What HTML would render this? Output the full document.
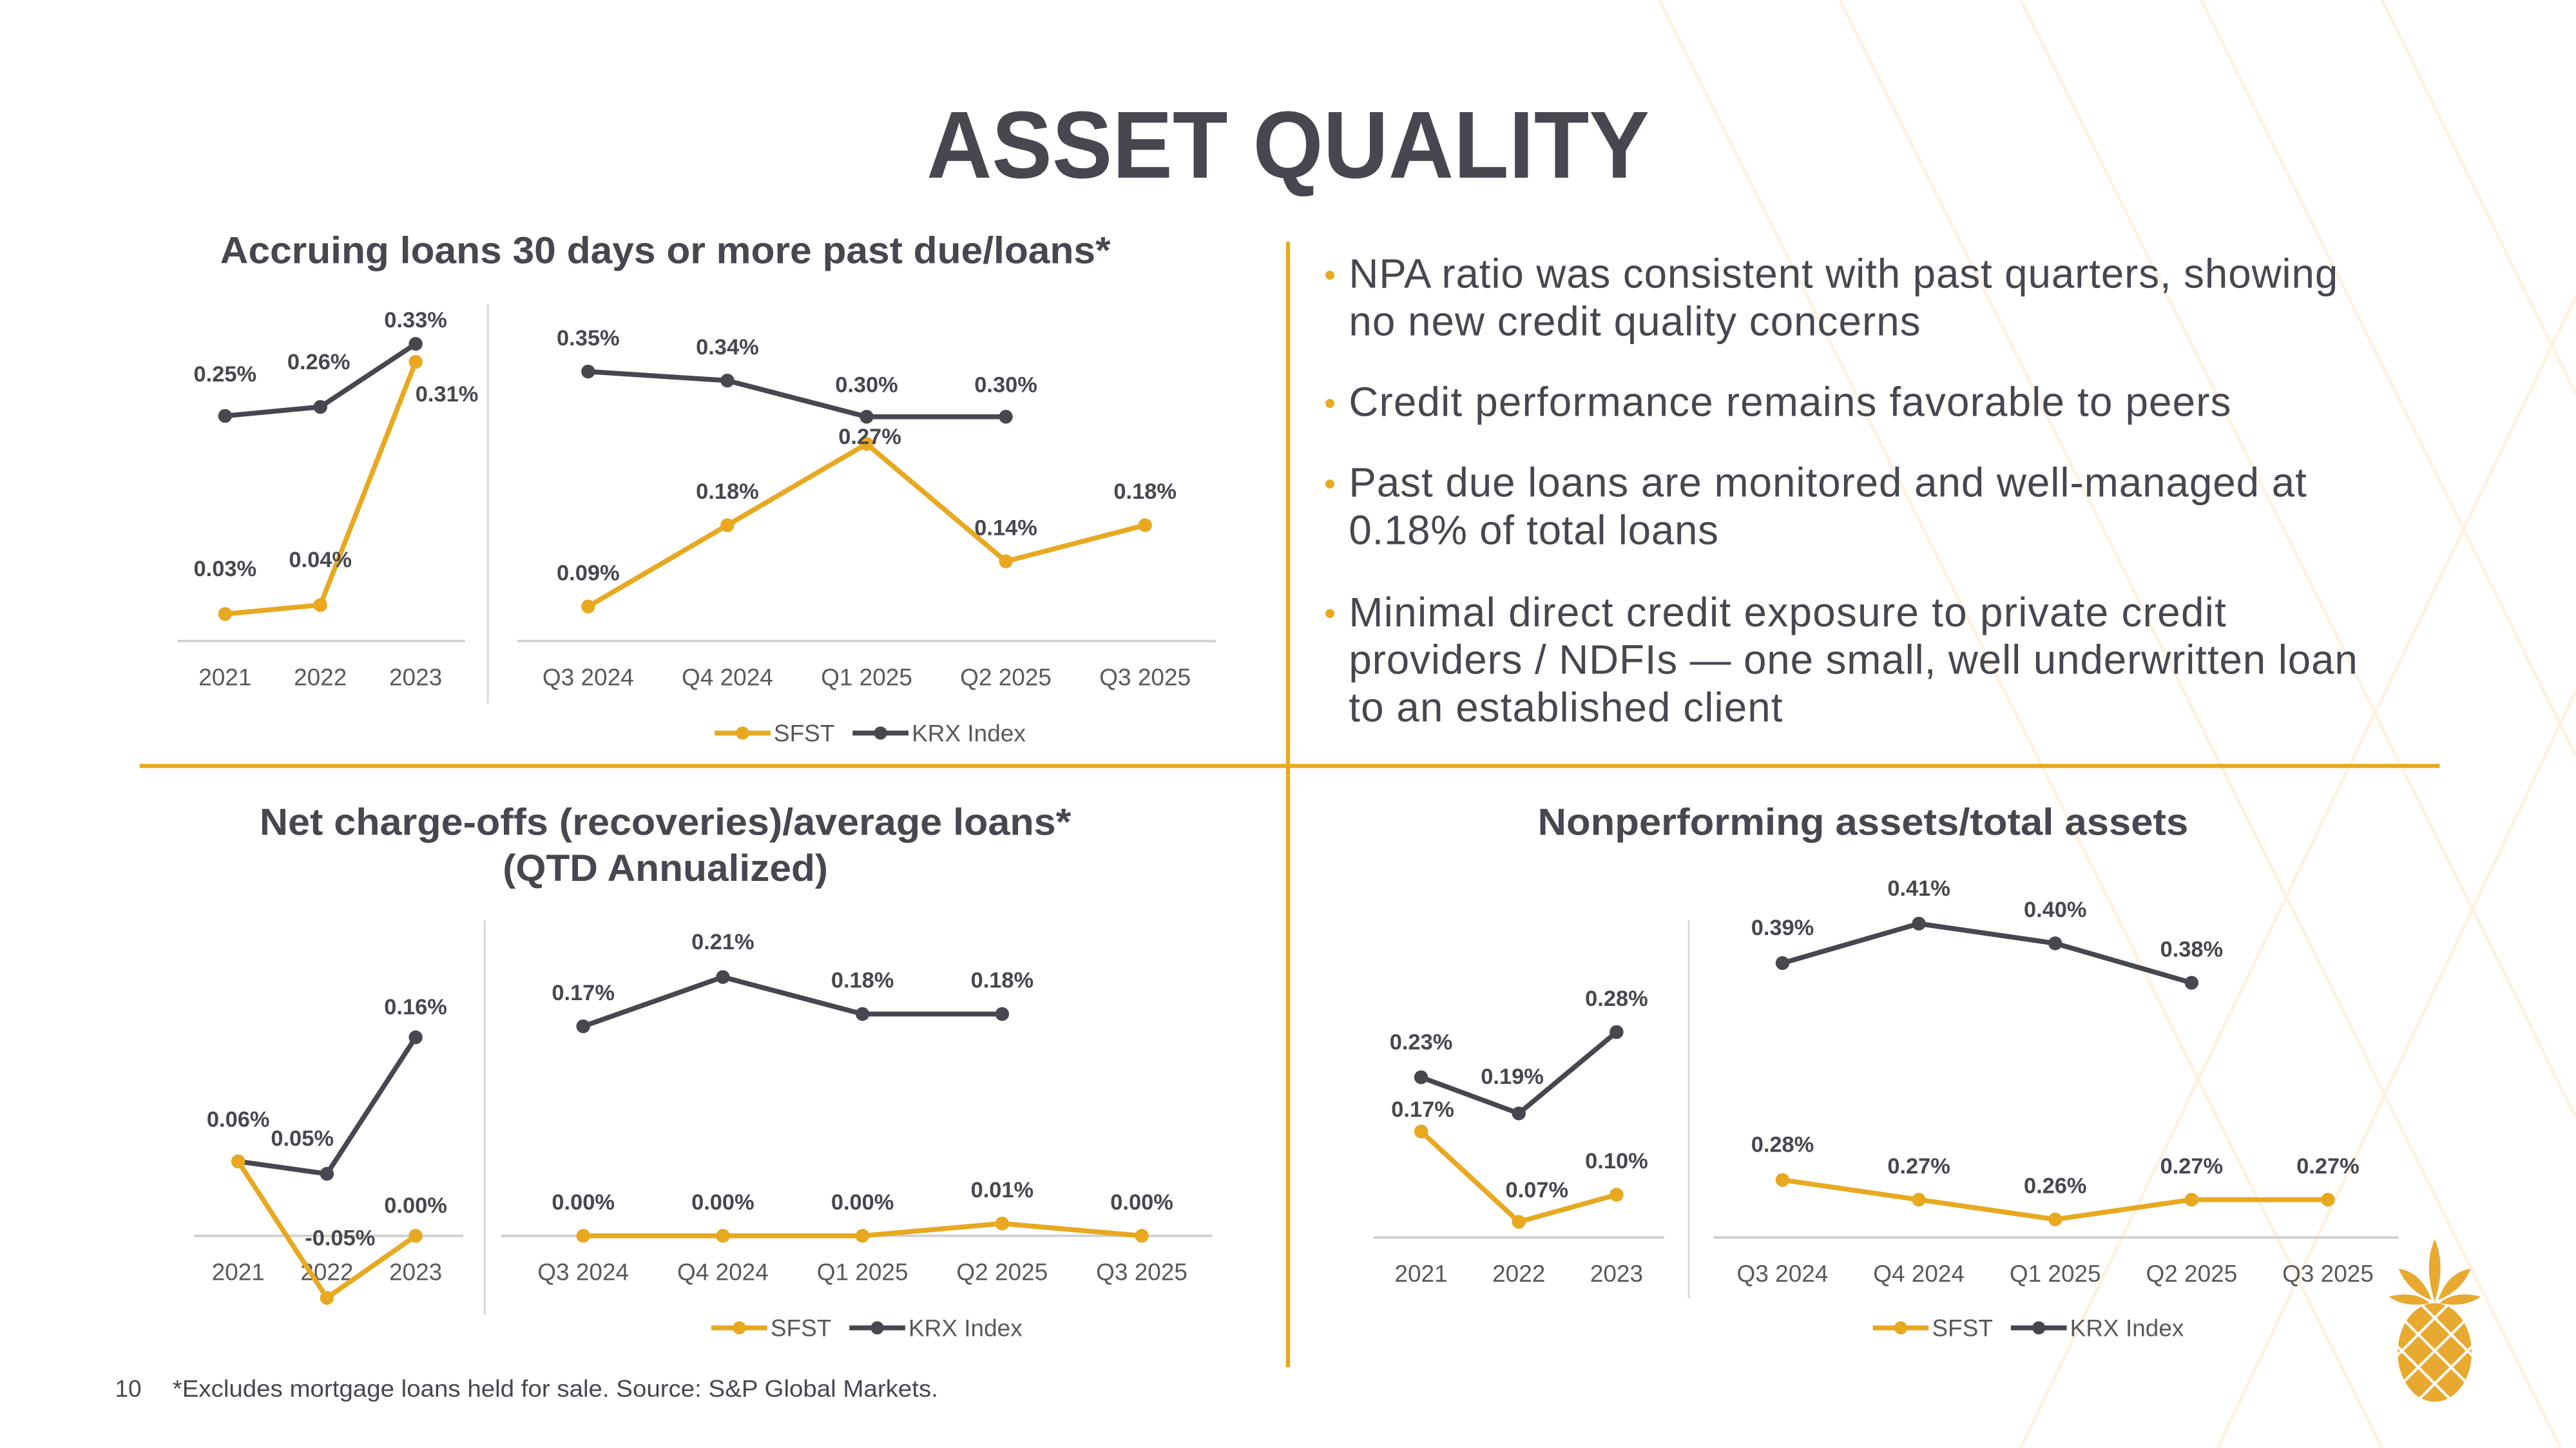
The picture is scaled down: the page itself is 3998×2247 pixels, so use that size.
<!DOCTYPE html>
<html><head><meta charset="utf-8"><style>
html,body{margin:0;padding:0;background:#fff;}
svg{display:block;}
text{font-family:"Liberation Sans",sans-serif;}
</style></head><body>
<svg id="s" width="3998" height="2247" viewBox="0 0 1568 881" xmlns="http://www.w3.org/2000/svg">
<g id="bg" stroke="#fdf3e2" stroke-width="2.2" fill="none">
  <line x1="1120" y1="0" x2="1568" y2="900"/><line x1="1230" y1="0" x2="1568" y2="680"/>
  <line x1="1340" y1="0" x2="1568" y2="460"/><line x1="1450" y1="0" x2="1568" y2="240"/>
  <line x1="1010" y1="0" x2="1450" y2="881"/><line x1="1568" y1="180" x2="1230" y2="881"/>
  <line x1="1568" y1="420" x2="1350" y2="881"/>
</g>
<text x="784" y="108" text-anchor="middle" font-size="58" font-weight="bold" fill="#46474f" textLength="440" lengthAdjust="spacingAndGlyphs">ASSET QUALITY</text>
<line x1="85" y1="466" x2="1485" y2="466" stroke="#e8a920" stroke-width="2.5"/>
<line x1="784" y1="147" x2="784" y2="832" stroke="#e8a920" stroke-width="2.5"/>
<text x="405" y="160" text-anchor="middle" font-size="23" font-weight="bold" fill="#46474f" textLength="542" lengthAdjust="spacingAndGlyphs">Accruing loans 30 days or more past due/loans*</text>
<text x="405" y="508" text-anchor="middle" font-size="23" font-weight="bold" fill="#46474f" textLength="494" lengthAdjust="spacingAndGlyphs">Net charge-offs (recoveries)/average loans*</text>
<text x="405" y="536" text-anchor="middle" font-size="23" font-weight="bold" fill="#46474f" textLength="198" lengthAdjust="spacingAndGlyphs">(QTD Annualized)</text>
<text x="1134" y="508" text-anchor="middle" font-size="23" font-weight="bold" fill="#46474f" textLength="396" lengthAdjust="spacingAndGlyphs">Nonperforming assets/total assets</text>
<g font-size="25" fill="#46474f" lengthAdjust="spacingAndGlyphs">
  <text x="806" y="174" fill="#e8a920" font-size="20">•</text>
  <text x="821" y="175" textLength="602">NPA ratio was consistent with past quarters, showing</text>
  <text x="821" y="204" textLength="348">no new credit quality concerns</text>
  <text x="806" y="252" fill="#e8a920" font-size="20">•</text>
  <text x="821" y="253" textLength="537">Credit performance remains favorable to peers</text>
  <text x="806" y="301" fill="#e8a920" font-size="20">•</text>
  <text x="821" y="302" textLength="583">Past due loans are monitored and well-managed at</text>
  <text x="821" y="331" textLength="225">0.18% of total loans</text>
  <text x="806" y="380" fill="#e8a920" font-size="20">•</text>
  <text x="821" y="381" textLength="534">Minimal direct credit exposure to private credit</text>
  <text x="821" y="410" textLength="614">providers / NDFIs — one small, well underwritten loan</text>
  <text x="821" y="439" textLength="264">to an established client</text>
</g>
<text x="70" y="850" font-size="14.5" fill="#46474f">10</text>
<text x="105" y="850" font-size="14.5" fill="#46474f" textLength="466" lengthAdjust="spacingAndGlyphs">*Excludes mortgage loans held for sale. Source: S&amp;P Global Markets.</text>
<g fill="#e8a930">
  <defs><clipPath id="pc"><ellipse cx="1482" cy="823" rx="22.5" ry="30"/></clipPath></defs>
  <ellipse cx="1482" cy="823" rx="22.5" ry="30"/>
  <g clip-path="url(#pc)" stroke="#fff" stroke-width="1.6">
    <line x1="1440" y1="780" x2="1530" y2="870"/><line x1="1440" y1="800" x2="1530" y2="890"/><line x1="1440" y1="760" x2="1530" y2="850"/><line x1="1440" y1="740" x2="1530" y2="830"/><line x1="1440" y1="820" x2="1530" y2="910"/>
    <line x1="1524" y1="780" x2="1434" y2="870"/><line x1="1524" y1="800" x2="1434" y2="890"/><line x1="1524" y1="760" x2="1434" y2="850"/><line x1="1524" y1="740" x2="1434" y2="830"/><line x1="1524" y1="820" x2="1434" y2="910"/>
  </g>
  <path d="M1482 754 Q1489 770 1482 792 Q1475 770 1482 754Z"/>
  <path d="M1460 772 Q1474 774 1480 791 Q1466 786 1460 772Z"/>
  <path d="M1504 772 Q1490 774 1484 791 Q1498 786 1504 772Z"/>
  <path d="M1454 789 Q1470 785 1479 793 Q1464 796 1454 789Z"/>
  <path d="M1510 789 Q1494 785 1485 793 Q1500 796 1510 789Z"/>
</g>
<g id="charts"></g>
</svg>
<script>
// ---- data ----
const c1aCats = ["2021","2022","2023"];
const c1aSFST = [0.03,0.04,0.31];
const c1aKRX  = [0.25,0.26,0.33];
const c1bCats = ["Q3 2024","Q4 2024","Q1 2025","Q2 2025","Q3 2025"];
const c1bSFST = [0.09,0.18,0.27,0.14,0.18];
const c1bKRX  = [0.35,0.34,0.30,0.30];
const c2aCats = ["2021","2022","2023"];
const c2aSFST = [0.06,-0.05,0.00];
const c2aKRX  = [0.06,0.05,0.16];
const c2bCats = ["Q3 2024","Q4 2024","Q1 2025","Q2 2025","Q3 2025"];
const c2bSFST = [0.00,0.00,0.00,0.01,0.00];
const c2bKRX  = [0.17,0.21,0.18,0.18];
const c3aCats = ["2021","2022","2023"];
const c3aSFST = [0.17,0.07,0.10];
const c3aKRX  = [0.23,0.19,0.28];
const c3bCats = ["Q3 2024","Q4 2024","Q1 2025","Q2 2025","Q3 2025"];
const c3bSFST = [0.28,0.27,0.26,0.27,0.27];
const c3bKRX  = [0.39,0.41,0.40,0.38];

const NS="http://www.w3.org/2000/svg";
const root=document.getElementById('charts');
const GOLD="#e8a920", DARK="#46474f";
function mk(tag,attrs,parent){const e=document.createElementNS(NS,tag);for(const k in attrs)e.setAttribute(k,attrs[k]);(parent||root).appendChild(e);return e;}

function panel(name,cats,sfst,krx,cfg){
  const g=mk('g',{});
  
  
  const X=i=>cfg.x0+i*cfg.step;
  const Y=v=>cfg.y0-v*cfg.k;
  const ax=mk('line',{x1:cfg.ax1,x2:cfg.ax2,y1:cfg.axY,y2:cfg.axY,stroke:"#d0d0d0","stroke-width":1.5},g);
  
  
  cats.forEach((c,i)=>{
    const t=mk('text',{x:X(i),y:cfg.tickY,"text-anchor":"middle","font-size":14.5,fill:"#595959"},g);
    t.textContent=c;
    
    
  });
  [[krx,DARK,'krx',cfg.kOff],[sfst,GOLD,'sfst',cfg.sOff]].forEach(([vals,col,sn,offs])=>{
    const pts=vals.map((v,i)=>X(i)+","+Y(v)).join(" ");
    const pl=mk('polyline',{points:pts,fill:"none",stroke:col,"stroke-width":3},g);
    
    
    vals.forEach((v,i)=>{
      const c=mk('circle',{cx:X(i),cy:Y(v),r:4.2,fill:col},g);
      
      
      const o=(offs&&offs[i])||[0,-15];
      if(o===null||o[2]==='hide')return;
      const t=mk('text',{x:X(i)+o[0],y:Y(v)+o[1],"text-anchor":"middle","font-size":13.5,"font-weight":"bold",fill:DARK},g);
      t.textContent=v.toFixed(2)+"%";
      
      
    });
  });
}
function vline(x,y1,y2){const l=mk('line',{x1:x,x2:x,y1:y1,y2:y2,stroke:"#d9d9d9","stroke-width":1.2});
  
  }
function legend(cx,y,name){
  const g=mk('g',{});
  
  
  const x=cx-95;
  mk('line',{x1:x,x2:x+34,y1:y,y2:y,stroke:GOLD,"stroke-width":3},g);
  mk('circle',{cx:x+17,cy:y,r:4,fill:GOLD},g);
  const t1=mk('text',{x:x+36,y:y+5,"font-size":14.5,fill:"#595959"},g);t1.textContent="SFST";
  mk('line',{x1:x+84,x2:x+118,y1:y,y2:y,stroke:DARK,"stroke-width":3},g);
  mk('circle',{cx:x+101,cy:y,r:4,fill:DARK},g);
  const t2=mk('text',{x:x+120,y:y+5,"font-size":14.5,fill:"#595959"},g);t2.textContent="KRX Index";
}

panel('chart1-annual',c1aCats,c1aSFST,c1aKRX,{x0:137,step:58,y0:390,k:548,ax1:108,ax2:283,axY:390,tickY:417,
  sOff:[[0,-23],[0,-23],[19,24]],kOff:[[0,-21],[-1,-23],[0,-10]]});
panel('chart1-quarterly',c1bCats,c1bSFST,c1bKRX,{x0:358,step:84.75,y0:418.5,k:550,ax1:315,ax2:740,axY:390,tickY:417,
  sOff:[[0,-16],[0,-16],[2,0],[0,-16],[0,-16]],kOff:[[0,-16],[0,-16],[0,-15],[0,-15]]});
vline(297,185,428);
legend(530,446,'chart1-legend');

panel('chart2-annual',c2aCats,c2aSFST,c2aKRX,{x0:145,step:54,y0:752,k:755,ax1:118,ax2:282,axY:752,tickY:779,
  sOff:[[0,0,'hide'],[8,-32],[0,-14]],kOff:[[0,-21],[-15,-17],[0,-14]]});
panel('chart2-quarterly',c2bCats,c2bSFST,c2bKRX,{x0:355,step:85,y0:752,k:750,ax1:305,ax2:738,axY:752,tickY:779,
  sOff:[[0,-16],[0,-16],[0,-16],[0,-16],[0,-16]],kOff:[[0,-16],[0,-17],[0,-16],[0,-16]]});
vline(295,560,800);
legend(528,808,'chart2-legend');

panel('chart3-annual',c3aCats,c3aSFST,c3aKRX,{x0:865,step:59.5,y0:782,k:550,ax1:836,ax2:1013,axY:753,tickY:780,
  sOff:[[1,-9],[11,-15],[0,-16]],kOff:[[0,-17],[-4,-18],[0,-16]]});
panel('chart3-quarterly',c3bCats,c3bSFST,c3bKRX,{x0:1085,step:83,y0:1054,k:1200,ax1:1043,ax2:1460,axY:753,tickY:780,
  sOff:[[0,-17],[0,-16],[0,-16],[0,-16],[0,-16]],kOff:[[0,-17],[0,-17],[0,-16],[0,-16]]});
vline(1028,560,790);
legend(1235,808,'chart3-legend');
</script>
</body></html>
